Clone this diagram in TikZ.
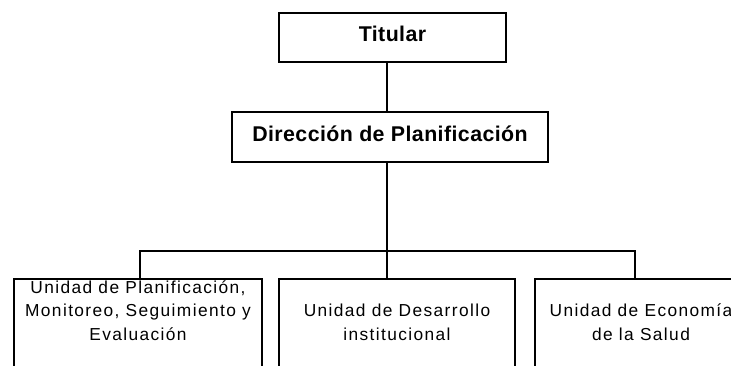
\documentclass[tikz,border=0pt]{standalone}
\usepackage{fontspec}
\setmainfont{Liberation Sans}
\newfontfamily\headfont[LetterSpace=2]{Liberation Sans}
\newfontfamily\unitfont[LetterSpace=8]{Liberation Sans}

\begin{document}
\begin{tikzpicture}[
    x=0.75pt, y=-0.75pt,
    box/.style={rectangle, draw, line width=1.5pt, fill=white},
    head/.style={box, font=\headfont\bfseries\fontsize{16}{19}\selectfont, minimum height=37pt, text height=0.75em, text depth=0.15em, inner sep=0pt},
    unit/.style={box, font=\unitfont\fontsize{13}{17.5}\selectfont, align=center, anchor=base, inner sep=0pt, text height=45.75pt, text depth=40pt},
    link/.style={line width=1.5pt}
]
\useasboundingbox (0,0) rectangle (731,365);
\clip (0,0) rectangle (731,365);
\fill[white] (0,0) rectangle (731,365);

% Head
\node[head, minimum width=170pt] (titular) at (392.5,37.5) {Titular};
\node[head, minimum width=237pt] (direccion) at (390,137) {Dirección de Planificación};

% Units
\node[unit, minimum width=186pt] (planif) at (138,340) {Unidad de Planificación,\\Monitoreo, Seguimiento y\\Evaluación};
\node[unit, minimum width=177pt] (desarrollo) at (397,340) {Unidad de Desarrollo\\institucional};
\node[unit, minimum width=159pt] (economia) at (641,340) {Unidad de Economía\\de la Salud};

% Lines
\coordinate (bus) at (387,251);
\coordinate (bus1) at (140,251);
\coordinate (bus3) at (635,251);
\draw[link] (titular.south -| bus) -- (direccion.north -| bus);
\draw[link] (direccion.south -| bus) -- (bus |- desarrollo.north);
\draw[link] (bus1 |- planif.north) -- (bus1) -- (bus3) -- (bus3 |- economia.north);

\end{tikzpicture}
\end{document}
